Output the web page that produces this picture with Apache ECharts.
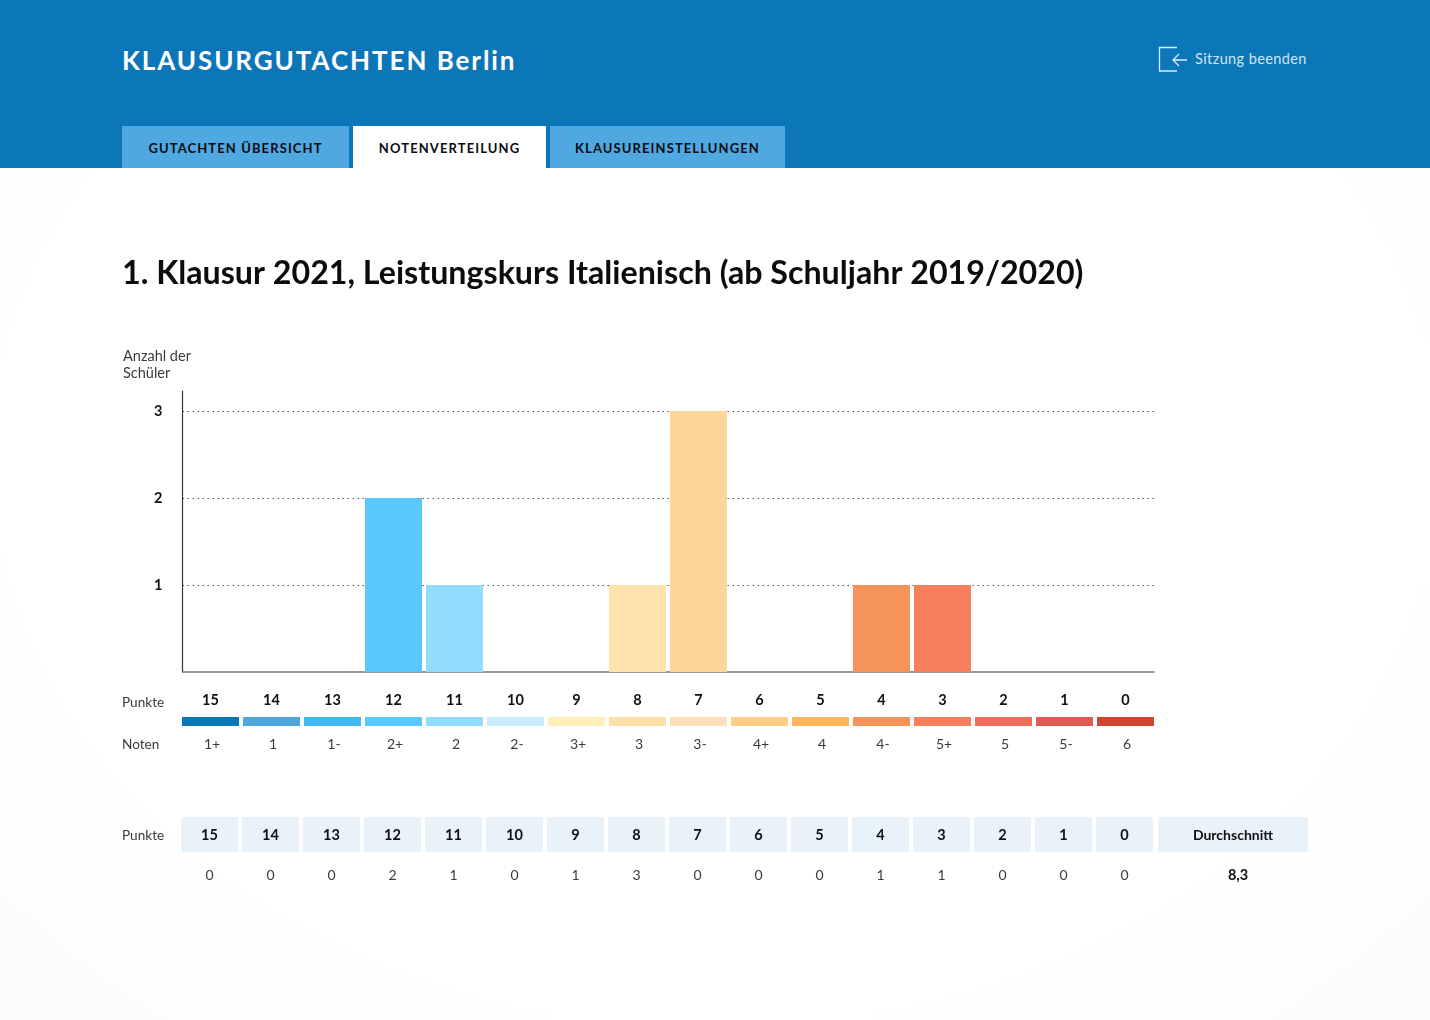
<!DOCTYPE html>
<html lang="de"><head><meta charset="utf-8">
<script src="https://cdn.jsdelivr.net/npm/echarts@6/dist/echarts.min.js"></script>
<style>
html,body{margin:0;padding:0;width:1430px;height:1020px;overflow:hidden;background:radial-gradient(ellipse at 50% 45%,#fff 70%,#fbfbfb 100%);font-family:Lato,sans-serif}
#head{position:absolute;left:0;top:0;width:1430px;height:168px;background:#0b76b8}
#brand{position:absolute;left:122px;top:43px;font-size:26px;line-height:34px;font-weight:700;letter-spacing:1.93px;color:#fff;white-space:nowrap}
.tab{position:absolute;top:126px;height:42px;line-height:45px;text-align:center;background:#4fa8e0;color:#0b0b12;font-size:13px;font-weight:700;letter-spacing:1.1px;white-space:nowrap}
.tab.on{background:#fff}
#out{position:absolute;left:1195px;top:49px;font-size:14.5px;line-height:20px;letter-spacing:.4px;color:#cfe6f4;white-space:nowrap}
#ico{position:absolute;left:1158px;top:46px}
#c{position:absolute;left:0;top:0;width:1430px;height:1020px}
</style></head><body>
<div id="head">
<div id="brand">KLAUSURGUTACHTEN Berlin</div>
<svg id="ico" width="32" height="28" fill="none" stroke="#dbeefa" stroke-width="1.3"><path d="M19 1.5H1.5V25H19"/><path d="M29 14H15M21 8l-6 6 6 6"/></svg>
<div id="out">Sitzung beenden</div>
<div class="tab" style="left:122px;width:227px">GUTACHTEN ÜBERSICHT</div>
<div class="tab on" style="left:353px;width:193px">NOTENVERTEILUNG</div>
<div class="tab" style="left:550px;width:235px">KLAUSUREINSTELLUNGEN</div>
</div>
<div id="c"></div>
<script>
const chartTitle = '1. Klausur 2021, Leistungskurs Italienisch (ab Schuljahr 2019/2020)';
const axisTitle = 'Anzahl der\nSchüler';
const punkte = ['15','14','13','12','11','10','9','8','7','6','5','4','3','2','1','0'];
const noten = ['1+','1','1-','2+','2','2-','3+','3','3-','4+','4','4-','5+','5','5-','6'];
const anzahl = [0,0,0,2,1,0,0,1,3,0,0,1,1,0,0,0];
const tabelle = ['0','0','0','2','1','0','1','3','0','0','0','1','1','0','0','0'];
const durchschnitt = '8,3';
const balkenFarben = ['#0b76b8','#4ea8de','#41b8f1','#5ac8ff','#93dcff','#caecff','#ffeeb8','#ffe2ac','#ffd699','#ffcf87','#ffb45f','#f5945a','#f77f5b','#ef6b5a','#df5a50','#d04530'];
const streifenFarben = ['#0b76b8','#4ea8de','#41b8f1','#5ac8ff','#93dcff','#caecff','#ffeeb8','#ffdfa8','#ffe0bb','#ffcf87','#ffb45f','#f5945a','#f77f5b','#ef6b5a','#df5a50','#d04530'];
const zellFarbe = '#e8f2f8';
const F = 'Lato, sans-serif';
const full = a => a.map(() => 1);
const hiddenY = (g, max) => ({type:'value', gridIndex:g, min:0, max, show:false});
const hiddenX = (g, data) => ({type:'category', gridIndex:g, data, show:false});
const labelX = (g, data, position, margin, style) => ({type:'category', gridIndex:g, data, position,
  axisLine:{show:false}, axisTick:{show:false}, splitLine:{show:false},
  axisLabel:Object.assign({show:true, interval:0, margin, fontFamily:F, hideOverlap:false}, style)});
const yMax = 3.23;
const boldNum = {fontSize:14.5, fontWeight:700, color:'#101014'};
const thinNum = {fontSize:14, fontWeight:400, color:'#3a3a3e'};
const chart = echarts.init(document.getElementById('c'), null, {renderer:'canvas'});
chart.setOption({
  animation:false,
  backgroundColor:'transparent',
  title:{text:chartTitle, left:117, top:253, textStyle:{fontFamily:F, fontSize:32.2, fontWeight:700, color:'#0c0c10'}},
  grid:[
    {left:180, width:976, top:391, height:281},
    {left:182.5, width:971.5, top:391, height:281},
    {left:180, width:976, top:717, height:9},
    {left:179, width:976, top:817, height:35},
    {left:1158, width:150, top:817, height:35}
  ],
  xAxis:[
    hiddenX(0, punkte),
    {type:'category', gridIndex:1, data:punkte, axisLine:{show:true, lineStyle:{color:'#77777a', width:1.5}}, axisTick:{show:false}, axisLabel:{show:false}},
    labelX(2, punkte, 'top', 9, boldNum),
    labelX(2, noten, 'bottom', 11, Object.assign({padding:[0,0,0,3]}, thinNum)),
    hiddenX(3, punkte),
    labelX(3, tabelle, 'bottom', 16, thinNum),
    hiddenX(4, ['Durchschnitt']),
    labelX(4, [durchschnitt], 'bottom', 16, Object.assign({padding:[0,0,0,10]}, boldNum))
  ],
  yAxis:[
    hiddenY(0, yMax),
    {type:'value', gridIndex:1, min:0, max:yMax, interval:1,
      axisLine:{show:true, lineStyle:{color:'#333338', width:1.2}}, axisTick:{show:false},
      axisLabel:{margin:20, padding:[4,0,0,0], fontFamily:F, fontSize:14.5, fontWeight:700, color:'#101014',
        formatter:v => (v >= 1 && Number.isInteger(v)) ? String(v) : ''},
      splitLine:{show:true, showMinLine:false, showMaxLine:false, lineStyle:{type:[1.5,3.5], color:'#55555a', width:1}}},
    hiddenY(2, 1), hiddenY(3, 1), hiddenY(4, 1)
  ],
  series:[
    {type:'bar', xAxisIndex:0, yAxisIndex:0, barWidth:57, silent:true,
      data:anzahl.map((v,i)=>({value:v, itemStyle:{color:balkenFarben[i]}}))},
    {type:'bar', xAxisIndex:2, yAxisIndex:2, barWidth:57, silent:true,
      data:full(punkte).map((v,i)=>({value:v, itemStyle:{color:streifenFarben[i]}}))},
    {type:'bar', xAxisIndex:4, yAxisIndex:3, barWidth:57, silent:true,
      itemStyle:{color:zellFarbe},
      label:{show:true, position:'inside', offset:[0,1], formatter:'{b}', fontFamily:F, fontSize:14.5, fontWeight:700, color:'#101014'},
      data:full(punkte)},
    {type:'bar', xAxisIndex:6, yAxisIndex:4, barWidth:'100%', silent:true,
      itemStyle:{color:zellFarbe},
      label:{show:true, position:'inside', offset:[0,1], formatter:'{b}', fontFamily:F, fontSize:14, fontWeight:700, color:'#101014'},
      data:[1]}
  ],
  graphic:[
    {type:'text', left:123, top:348, style:{text:axisTitle, fontFamily:F, fontSize:14.5, lineHeight:17, fill:'#3a3a3e'}, silent:true},
    {type:'text', left:122, top:696, style:{text:'Punkte', fontFamily:F, fontSize:13.6, fill:'#3a3a3e'}, silent:true},
    {type:'text', left:122, top:738, style:{text:'Noten', fontFamily:F, fontSize:13.6, fill:'#3a3a3e'}, silent:true},
    {type:'text', left:122, top:829, style:{text:'Punkte', fontFamily:F, fontSize:13.6, fill:'#3a3a3e'}, silent:true}
  ]
});
</script></body></html>
